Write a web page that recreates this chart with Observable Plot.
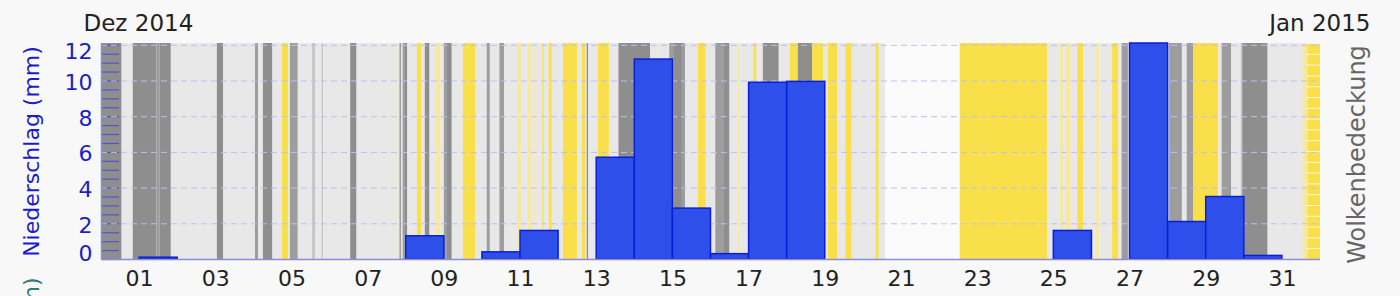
<!DOCTYPE html>
<html><head><meta charset="utf-8">
<script src="https://cdn.jsdelivr.net/npm/d3@7"></script>
<script src="https://cdn.jsdelivr.net/npm/@observablehq/plot@0.6"></script>
<style>html,body{margin:0;padding:0;background:#f8f8f8;overflow:hidden;}</style>
</head><body><div id="chart"></div>
<script>
// Precipitation per day of December 2014 (mm)
const precipDays = [1, 8, 10, 11, 13, 14, 15, 16, 17, 18, 25, 27, 28, 29, 30];
const precipValues = [0.1, 1.3, 0.4, 1.6, 5.7, 11.2, 2.85, 0.3, 9.9, 9.95, 1.6, 12.1, 2.1, 3.5, 0.2];

// Cloud cover / sunshine segments: start hour (from 30 Nov 2014 00:00 UTC) and class
const cloudStart = [0,13,20,35,37,44,73,77,97,99,102,108,114,118,119,124,133,135,139,140,157,161,184,185,188,189,190,191,193,199,202,204,207,211,214,216,218,221,228,236,243,245,251,254,262,265,269,271,273,274,278,279,282,284,291,300,303,305,306,307,313,320,326,346,349,350,358,361,366,368,376,381,387,392,396,401,402,411,413,417,427,434,439,448,455,458,464,469,473,488,490,494,541,596,604,606,608,611,615,619,627,629,637,641,643,647,673,681,684,688,704,706,712,718,719,735,757,760];
const cloudClass = ["D","L","D","M","D","L","D","L","M","L","D","L","Y","L","M","L","G","L","G","L","D","L","P","L","M","L","M","D","L","Y","L","D","L","P","L","M","D","L","Y","L","M","L","M","L","P","L","P","L","P","L","Y","L","Y","L","Y","L","Y","L","D","L","Y","L","D","L","P","L","M","D","M","L","Y","L","M","D","L","P","L","Y","L","D","L","Y","D","Y","L","Y","L","Y","L","Y","L","N","Y","L","P","L","P","L","Y","L","P","L","Y","L","M","L","M","L","M","Y","L","M","L","G","D","L","P","Y"];
const endHour = 768;

const classColors = {D: "#8e8e8e", M: "#9d9d9d", G: "#c6c6c6", L: "#e8e8e8", Y: "#f9e04b", P: "#f5e9a2", N: "#fbfbfb"};

const yTicks = [2, 4, 6, 8, 10];
const xTickDays = [1,3,5,7,9,11,13,15,17,19,21,23,25,27,29,31];
const minorPrecipTicks = d3.range(0, 12.01, 0.5);
const cloudPctTicks = d3.range(0, 101, 5);
const yMax = 12.1;

const t0 = Date.UTC(2014, 10, 30);
const atHour = h => new Date(t0 + h * 3600000);
const dec = d => new Date(Date.UTC(2014, 11, d));

const segments = cloudStart.map((s, i) => ({
  x1: atHour(s),
  x2: atHour(i + 1 < cloudStart.length ? cloudStart[i + 1] : endHour),
  color: classColors[cloudClass[i]]
}));
const bars = precipDays.map((d, i) => ({x1: dec(d), x2: dec(d + 1), v: precipValues[i]}));

const blue = "#1c1cc8";
const font = "DejaVu Sans";

const chart = Plot.plot({
  width: 1400,
  height: 296,
  marginLeft: 101,
  marginRight: 80,
  marginTop: 43,
  marginBottom: 37,
  x: {type: "utc", domain: [atHour(0), atHour(endHour)]},
  y: {domain: [0, yMax]},
  color: {type: "identity"},
  style: {fontFamily: font, fontSize: "22px", background: "#f8f8f8", overflow: "visible"},
  marks: [
    Plot.rect(segments, {x1: "x1", x2: "x2", fill: "color"}),
    Plot.tickY(cloudPctTicks, {y: p => p / 100 * yMax, stroke: "#ffffff", strokeOpacity: 0.8, insetLeft: 1219 - 14}),
    Plot.tickY(minorPrecipTicks, {y: d => d, stroke: "#4a4ad2", strokeWidth: 1.2, strokeOpacity: 0.85, insetRight: 1219 - 18}),
    Plot.ruleY(yTicks.concat([12]), {stroke: "#bfbff0", strokeDasharray: "6,4"}),
    Plot.rect(bars, {x1: "x1", x2: "x2", y1: 0, y2: "v", fill: "#2f4fea", stroke: "#0a1ed8", strokeWidth: 1.5}),
    Plot.ruleY([0], {stroke: "#8c8cdc", strokeWidth: 1.5}),
    Plot.ruleX([atHour(0)], {stroke: "#8c8cdc", strokeWidth: 1.5}),
    Plot.axisY(yTicks, {tickSize: 0, tickPadding: 9, fill: blue, fontSize: 22, dy: 2, label: null}),
    Plot.axisY([12], {tickSize: 0, tickPadding: 9, fill: blue, fontSize: 22, dy: 7, label: null}),
    Plot.axisY([0], {tickSize: 0, tickPadding: 9, fill: blue, fontSize: 22, dy: -6, label: null}),
    Plot.axisX(xTickDays.map(dec), {tickSize: 0, tickPadding: 11, tickFormat: d3.utcFormat("%d"), fill: "#222", fontSize: 22, label: null}),
    Plot.text(["Dez 2014"], {frameAnchor: "top-left", text: d => d, textAnchor: "start", lineAnchor: "top", dx: -18, dy: -29, fill: "#222", fontSize: 23}),
    Plot.text(["Jan 2015"], {frameAnchor: "top-right", text: d => d, textAnchor: "end", lineAnchor: "top", dx: 50, dy: -29, fill: "#222", fontSize: 23}),
    Plot.text(["Niederschlag (mm)"], {frameAnchor: "left", text: d => d, rotate: -90, textAnchor: "middle", lineAnchor: "middle", dx: -70, dy: 0, fill: blue, fontSize: 22}),
    Plot.text(["Wolkenbedeckung"], {frameAnchor: "right", text: d => d, rotate: -90, textAnchor: "middle", lineAnchor: "middle", dx: 37, dy: 3, fill: "#666", fontSize: 24}),
    Plot.text(["Sonnenschein (min)"], {frameAnchor: "bottom-left", text: d => d, rotate: -90, textAnchor: "end", lineAnchor: "middle", dx: -70, dy: 18, fill: "#2e7d78", fontSize: 22})
  ]
});
document.getElementById("chart").appendChild(chart);
</script></body></html>
